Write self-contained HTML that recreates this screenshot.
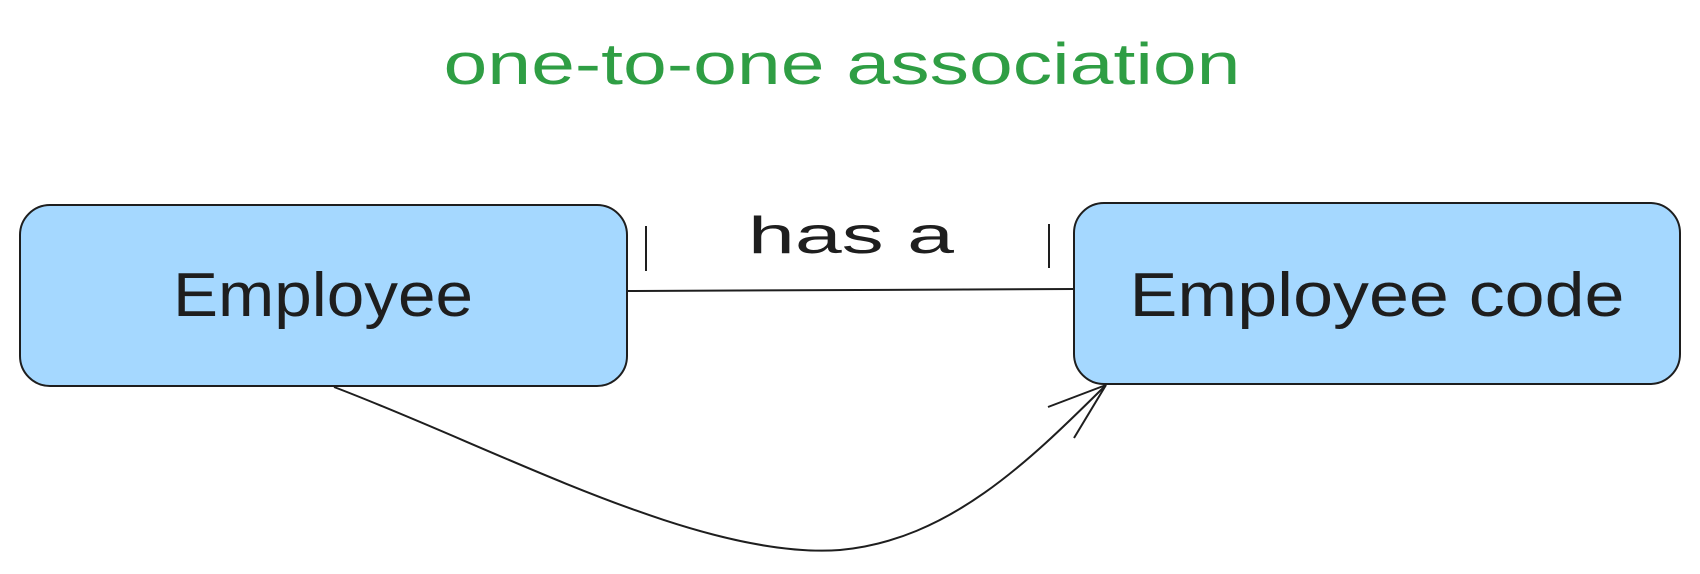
<!DOCTYPE html>
<html><head><meta charset="utf-8"><style>
html,body{margin:0;padding:0;background:#fff;}
body{width:1700px;height:574px;overflow:hidden;position:relative;}
svg{position:absolute;left:0;top:0;}
text{font-family:"Liberation Sans",sans-serif;}
</style></head><body>
<svg width="1700" height="574" viewBox="0 0 1700 574">
<text x="842" y="84" text-anchor="middle" font-size="58" fill="#2f9e44" textLength="797" lengthAdjust="spacingAndGlyphs">one-to-one association</text>
<rect x="20" y="205" width="607" height="181" rx="30" fill="#a5d8ff" stroke="#1e1e1e" stroke-width="2"/>
<rect x="1074" y="203" width="606" height="181" rx="30" fill="#a5d8ff" stroke="#1e1e1e" stroke-width="2"/>
<text x="323" y="316" text-anchor="middle" font-size="62" fill="#1e1e1e" textLength="300" lengthAdjust="spacingAndGlyphs">Employee</text>
<text x="1377" y="316" text-anchor="middle" font-size="62" fill="#1e1e1e" textLength="495" lengthAdjust="spacingAndGlyphs">Employee code</text>
<line x1="627" y1="291" x2="1074" y2="289" stroke="#1e1e1e" stroke-width="2"/>
<line x1="646" y1="226" x2="646" y2="271" stroke="#1e1e1e" stroke-width="2"/>
<line x1="1049" y1="224" x2="1049" y2="268" stroke="#1e1e1e" stroke-width="2"/>
<text x="851" y="253" text-anchor="middle" font-size="52" fill="#1e1e1e" textLength="206" lengthAdjust="spacingAndGlyphs">has a</text>
<path d="M334 387 C 500 450, 700 560, 840 550 C 950 540, 1030 460, 1106 385" fill="none" stroke="#1e1e1e" stroke-width="2"/>
<line x1="1106" y1="385" x2="1048" y2="407" stroke="#1e1e1e" stroke-width="2"/>
<line x1="1106" y1="385" x2="1074" y2="438" stroke="#1e1e1e" stroke-width="2"/>
</svg>
</body></html>
